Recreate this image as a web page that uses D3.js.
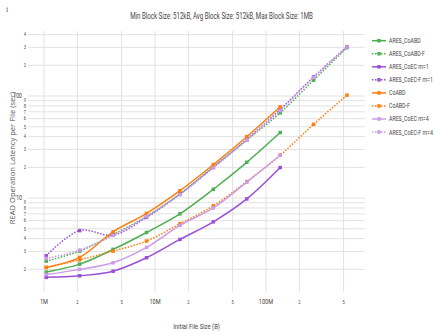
<!DOCTYPE html>
<html>
<head>
<meta charset="utf-8">
<script src="https://cdn.jsdelivr.net/npm/d3@7"></script>
<style>
  body { margin: 0; background: #fff; }
  .cond { font-family: 'Roboto', sans-serif; fill: #444; }
</style>
</head>
<body>
<div id="latency-chart"></div>
<script>
// file sizes in MiB, converted to bytes for the x axis
const fileSizesMiB = [1, 2, 4, 8, 16, 32, 64, 128, 256, 512];

// read latency per file (sec)
const aresCoABD = [1.88, 2.25, 3.14, 4.6, 7.0, 12.2, 22.4, 43.9];
const aresCoABDF = [2.41, 3.02, 4.4, 6.6, 11.0, 20.3, 37.0, 68.4, 143, 298];
const aresCoECm1 = [1.67, 1.73, 1.92, 2.6, 3.93, 5.85, 9.8, 19.9];
const aresCoECFm1 = [2.72, 4.8, 4.34, 6.47, 10.9, 20.0, 37.6, 73.9, 154, 304];
const coABD = [2.09, 2.62, 4.67, 7.07, 11.8, 21.3, 39.9, 78.5];
const coABDF = [2.09, 2.48, 3.02, 3.79, 5.6, 8.4, 14.5, 26.3, 52.8, 102];
const aresCoECm4 = [1.78, 2.0, 2.32, 3.28, 5.4, 8.0, 14.3, 26.3];
const aresCoECFm4 = [2.56, 3.09, 4.3, 6.6, 10.8, 19.8, 37.0, 72.0, 152, 302];

const seriesNames = ['ARES_CoABD', 'ARES_CoABD-F', 'ARES_CoEC m=1', 'ARES_CoEC-F m=1',
  'CoABD', 'CoABD-F', 'ARES_CoEC m=4', 'ARES_CoEC-F m=4'];
const seriesValues = [aresCoABD, aresCoABDF, aresCoECm1, aresCoECFm1, coABD, coABDF, aresCoECm4, aresCoECFm4];

// axis ticks
const xTickValues = [1e6, 2e6, 5e6, 1e7, 2e7, 5e7, 1e8, 2e8, 5e8];
const xTickLabels = ['1M', '2', '5', '10M', '2', '5', '100M', '2', '5'];
const yTickValues = [2, 3, 4, 5, 6, 7, 8, 9, 10, 20, 30, 40, 50, 60, 70, 80, 90, 100, 200, 300, 400];
const yTickLabels = ['2', '3', '4', '5', '6', '7', '8', '9', '10', '2', '3', '4', '5', '6', '7', '8', '9', '100', '2', '3', '4'];

// squeeze text horizontally (the original uses a condensed face)
// moves x/y into a transform so the box is squeezed too
function condense(selection, factor) {
  selection.each(function () {
    var t = d3.select(this);
    var x = +t.attr("x") || 0;
    var y = +t.attr("y") || 0;
    t.attr("x", null).attr("y", null)
      .attr("transform", "translate(" + x + "," + y + ") scale(" + factor + ",1)");
  });
}

// constructor for the latency line chart
function LatencyChart() {
  var self = this;
  self.init();
}

LatencyChart.prototype.init = function () {
  var self = this;
  self.width = 435;
  self.height = 332;
  self.plot = { left: 28, right: 365, top: 31, bottom: 292 };

  self.svg = d3.select("#latency-chart").append("svg")
    .attr("width", self.width)
    .attr("height", self.height);

  self.x = d3.scaleLog()
    .domain([Math.pow(10, 5.856), Math.pow(10, 8.892)])
    .range([self.plot.left, self.plot.right]);
  self.y = d3.scaleLog()
    .domain([1.2, 434])
    .range([self.plot.bottom, self.plot.top]);

  self.colors = ['#4caf50', '#4caf50', '#9b4fd6', '#9b4fd6', '#ff7f0e', '#ff7f0e', '#cc9be8', '#cc9be8'];
  self.dashed = [false, true, false, true, false, true, false, true];
}

// grid lines and tick labels
LatencyChart.prototype.drawAxes = function () {
  var self = this;
  var p = self.plot;

  self.svg.append("g").selectAll("line")
    .data(yTickValues)
    .enter().append("line")
    .attr("x1", p.left).attr("x2", p.right)
    .attr("y1", d => self.y(d)).attr("y2", d => self.y(d))
    .attr("stroke", "#e2e2e2").attr("stroke-width", 1);

  self.svg.append("g").selectAll("line")
    .data(xTickValues)
    .enter().append("line")
    .attr("x1", d => self.x(d)).attr("x2", d => self.x(d))
    .attr("y1", p.top).attr("y2", p.bottom)
    .attr("stroke", "#e2e2e2").attr("stroke-width", 1);

  // y labels, the decade labels are a bit bigger
  self.svg.append("g").selectAll("text")
    .data(yTickValues)
    .enter().append("text")
    .attr("class", "cond")
    .attr("x", (d, i) => yTickLabels[i].length > 1 ? 22 : 26)
    .attr("y", d => self.y(d))
    .attr("dy", "0.35em")
    .attr("text-anchor", "end")
    .style("font-size", (d, i) => yTickLabels[i].length > 1 ? "6.5px" : "5px")
    .text((d, i) => yTickLabels[i])
    .call(condense, 0.8);

  self.svg.append("g").selectAll("text")
    .data(xTickValues)
    .enter().append("text")
    .attr("class", "cond")
    .attr("x", d => self.x(d))
    .attr("y", 302)
    .attr("dy", "0.35em")
    .attr("text-anchor", "middle")
    .style("font-size", (d, i) => xTickLabels[i].length > 1 ? "7px" : "5px")
    .text((d, i) => xTickLabels[i])
    .call(condense, 0.8);

  // titles
  self.svg.append("text")
    .attr("class", "cond")
    .attr("x", 221.5).attr("y", 16)
    .attr("dy", "0.35em")
    .attr("text-anchor", "middle")
    .style("font-size", "8.3px")
    .text("Min Block Size: 512kB, Avg Block Size: 512kB, Max Block Size: 1MB")
    .call(condense, 0.74);

  self.svg.append("text")
    .attr("class", "cond")
    .attr("x", 196.5).attr("y", 326.5)
    .attr("dy", "0.35em")
    .attr("text-anchor", "middle")
    .style("font-size", "7.8px")
    .text("Initial File Size (B)")
    .call(condense, 0.76);

  self.svg.append("text")
    .attr("transform", "translate(12,158) rotate(-90)")
    .attr("dy", "0.35em")
    .attr("text-anchor", "middle")
    .style("font-family", "'Open Sans', sans-serif")
    .style("font-size", "7.6px")
    .style("fill", "#555")
    .text("READ Operation Latency per File (sec)");

  self.svg.append("text")
    .attr("x", 6).attr("y", 12)
    .style("font-family", "'DejaVu Serif', serif")
    .style("font-size", "7px")
    .style("fill", "#555")
    .text("i");
}

// legend on the right side
LatencyChart.prototype.drawLegend = function () {
  var self = this;
  const itemSpacing = 13.05;

  const legend = self.svg.append("g").selectAll(".legend")
    .data(seriesNames)
    .enter().append("g")
    .attr("class", "legend")
    .attr("transform", (d, i) => "translate(372," + (40.7 + i * itemSpacing) + ")");

  legend.append("line")
    .attr("x1", 0).attr("x2", 14)
    .attr("stroke", (d, i) => self.colors[i])
    .attr("stroke-width", 1.5)
    .attr("stroke-dasharray", (d, i) => self.dashed[i] ? "1.5,1.5" : null);

  legend.append("rect")
    .attr("x", 5.25).attr("y", -1.75).attr("width", 3.5).attr("height", 3.5)
    .attr("fill", (d, i) => self.colors[i]);

  legend.append("text")
    .attr("class", "cond")
    .attr("x", 17)
    .attr("dy", "0.35em")
    .style("font-size", "7px")
    .text(d => d)
    .call(condense, 0.75);
}

LatencyChart.prototype.update = function () {
  var self = this;

  const line = d3.line()
    .x(d => self.x(d.size))
    .y(d => self.y(d.latency))
    .curve(d3.curveCatmullRom);

  const series = seriesNames.map(function (name, i) {
    return {
      name: name,
      points: seriesValues[i].map((v, j) => ({ size: fileSizesMiB[j] * 1048576, latency: v }))
    };
  });

  const groups = self.svg.append("g").selectAll(".series")
    .data(series)
    .enter().append("g")
    .attr("class", "series");

  groups.append("path")
    .attr("d", d => line(d.points))
    .attr("fill", "none")
    .attr("stroke", (d, i) => self.colors[i])
    .attr("stroke-width", 1.5)
    .attr("stroke-dasharray", (d, i) => self.dashed[i] ? "1.5,1.5" : null);

  groups.each(function (d, i) {
    d3.select(this).selectAll("rect")
      .data(d.points)
      .enter().append("rect")
      .attr("x", p => self.x(p.size) - 1.75)
      .attr("y", p => self.y(p.latency) - 1.75)
      .attr("width", 3.5).attr("height", 3.5)
      .attr("fill", self.colors[i]);
  });

  self.drawLegend();
}

var chart = new LatencyChart();
chart.drawAxes();
chart.update();
</script>
</body>
</html>
